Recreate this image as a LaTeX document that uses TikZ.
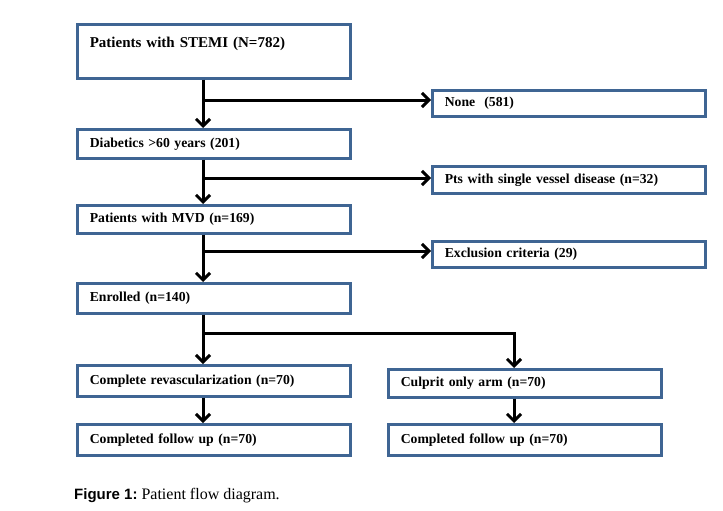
\documentclass[tikz,border=0pt]{standalone}
\usepackage{fontspec}
\setmainfont{Liberation Serif}
\newfontfamily\capsans{Liberation Sans}
\usetikzlibrary{arrows.meta}
\definecolor{boxblue}{HTML}{3F6593}
\begin{document}
\begin{tikzpicture}[x=1pt,y=-1pt,
  box/.style={draw=boxblue, line width=2.6pt, fill=white, anchor=north west,
    inner xsep=12.5pt, inner ysep=0pt, align=left, text width=248pt,
    font=\fontsize{13.7}{17}\selectfont\bfseries},
  arr/.style={line width=3pt, -{Straight Barb[length=7pt,width=14pt]}},
  ln/.style={line width=3pt}]
\path[fill=white] (0,0) rectangle (723,511);
% boxes
\node[box, minimum height=54pt, font=\fontsize{15}{19}\selectfont\bfseries] (s1) at (76,23) {Patients with STEMI (N=782)\\ \mbox{}};
\node[box, minimum height=29pt] (diab) at (76,128) {Diabetics {>}60 years (201)};
\node[box, minimum height=28pt] (mvd) at (76,204) {Patients with MVD (n=169)};
\node[box, minimum height=30pt] (enr) at (76,282) {Enrolled (n=140)};
\node[box, minimum height=31pt] (crev) at (76,364) {Complete revascularization (n=70)};
\node[box, minimum height=31pt] (fl) at (76,423) {Completed follow up (n=70)};
\node[box, minimum height=26pt] (none) at (431,89) {None\ \ (581)};
\node[box, minimum height=27pt] (pts) at (431,165) {Pts with single vessel disease (n=32)};
\node[box, minimum height=26pt] (exc) at (431,240) {Exclusion criteria (29)};
\node[box, minimum height=28pt] (cul) at (387,368) {Culprit only arm (n=70)};
\node[box, minimum height=31pt] (fr) at (387,423) {Completed follow up (n=70)};
% branch points
\coordinate (c1) at (203,100);
\coordinate (c2) at (203,178);
\coordinate (c3) at (203,251);
\coordinate (c4) at (203,333);
\coordinate (c5) at (514,333);
% connectors
\draw[arr] (s1.south -| c1) -- (diab.north -| c1);
\draw[arr] (c1) -- (c1 -| none.west);
\draw[arr] (diab.south -| c2) -- (mvd.north -| c2);
\draw[arr] (c2) -- (c2 -| pts.west);
\draw[arr] (mvd.south -| c3) -- (enr.north -| c3);
\draw[arr] (c3) -- (c3 -| exc.west);
\draw[arr] (enr.south -| c4) -- (crev.north -| c4);
\draw[arr] (c4) -- (c5) -- (cul.north -| c5);
\draw[arr] (crev.south -| c4) -- (fl.north -| c4);
\draw[arr] (cul.south -| c5) -- (fr.north -| c5);
% caption
\node[anchor=base west, inner sep=0pt] (cap) at (74,499) {{\capsans\fontsize{15}{18}\selectfont\bfseries Figure 1:}\fontsize{16}{19}\selectfont\ Patient flow diagram.};
\end{tikzpicture}
\end{document}
